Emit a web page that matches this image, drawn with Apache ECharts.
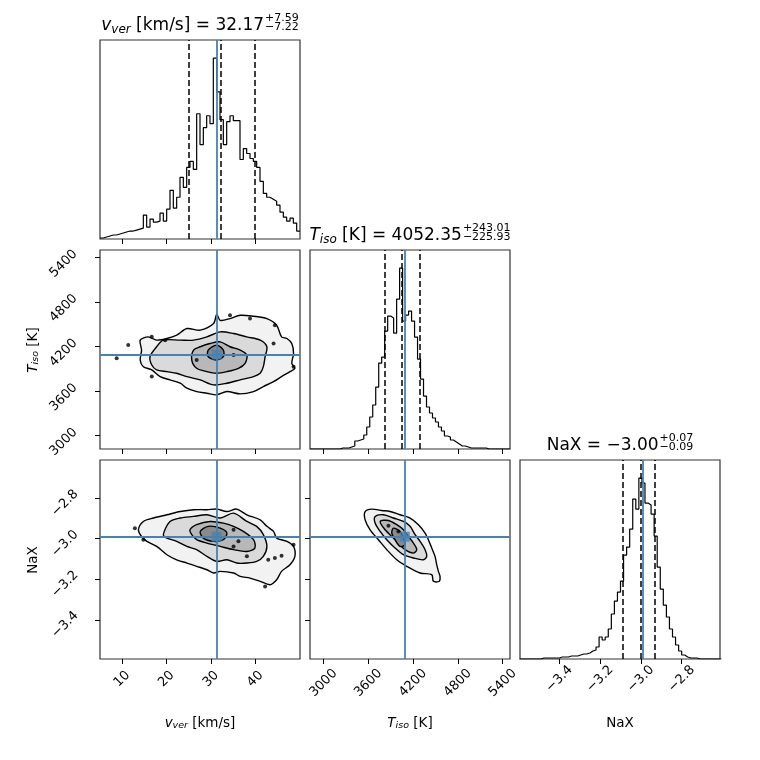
<!DOCTYPE html>
<html>
<head>
<meta charset="utf-8">
<script src="https://cdn.jsdelivr.net/npm/echarts@6/dist/echarts.min.js"></script>
<style>
    html, body { margin: 0; padding: 0; background: #fff; }
    #container { width: 760px; height: 760px; }
</style>
</head>
<body>
<div id="container"></div>
<script>
// ---- data ----
// 1D histograms: bin counts, first bin edge and bin width
var vverLo = 5.05, vverBinW = 0.75;
var vverCounts = [1, 2, 3, 4, 4, 5, 6, 7, 8, 8, 9, 10, 11, 24, 12, 20, 17, 18, 26, 18, 30, 49, 31, 42, 62, 52, 72, 78, 70, 126,
    95, 112, 124, 116, 182, 148, 120, 95, 118, 124, 119, 119, 80, 91, 86, 81, 78, 72, 58, 46, 42, 40, 38, 34, 27, 22, 18, 21, 16, 8];

var tisoLo = 2820, tisoBinW = 40;
var tisoCounts = [0, 0, 0, 0, 0, 0, 0, 0, 0, 0,
    1, 1, 1, 2, 3, 8, 9, 10, 14, 22,
    32, 44, 62, 86, 92, 118, 133, 131, 116, 150,
    181, 128, 134, 138, 128, 112, 90, 70, 53, 42,
    36, 31, 27, 22, 18, 13, 12, 9, 7, 5,
    3, 3, 2, 1, 1, 1, 1, 1, 1, 0,
    0, 0, 0, 0, 0, 0, 0];

var naxLo = -3.595, naxBinW = 0.015;
var naxCounts = [0, 0, 0, 0, 0, 0, 0, 1, 1, 1,
    1, 1, 1, 2, 2, 2, 3, 3, 3, 4,
    5, 5, 6, 8, 9, 12, 22, 19, 22, 30,
    45, 58, 67, 78, 104, 112, 130, 160, 150, 181,
    176, 156, 154, 145, 123, 92, 70, 54, 42, 30,
    22, 14, 8, 4, 2, 1, 1, 1, 0, 0,
    0, 0, 0, 0, 0, 0];

// quantiles (16/50/84) and truth values
var vverQuant = [24.95, 32.17, 39.76];
var tisoQuant = [3826.42, 4052.35, 4295.36];
var naxQuant = [-3.09, -3.00, -2.93];
var truths = { vver: 31.3, tiso: 4090, nax: -2.99 };

// axis ranges and tick values
var vverRange = [5.05, 50.05], vverTicks = [10, 20, 30, 40];
var tisoRange = [2820, 5498], tisoTicks = [3000, 3600, 4200, 4800, 5400];
var naxRange = [-3.593, -2.612], naxTicks = [-3.4, -3.2, -3.0, -2.8];

// 2D contour levels (outer to inner), [x, y] in data units
var vtLevels = [
    [[14.1, 4285], [15.9, 4329], [17.8, 4285], [20.1, 4307], [22.3, 4352], [24.6, 4441], [27.6, 4419], [30.6, 4508], [31.3, 4633], [32.1, 4552],
        [34.3, 4575], [36.6, 4619], [39.6, 4606], [42.6, 4575], [44.8, 4485], [45.9, 4329], [47.1, 4307], [48.2, 4240], [48.6, 4106], [48.2, 3973],
        [48.9, 3906], [47.8, 3861], [45.9, 3794], [44.1, 3727], [41.8, 3660], [39.6, 3593], [36.6, 3562], [33.6, 3593], [31.3, 3549], [29.1, 3571],
        [26.8, 3593], [24.6, 3638], [23.1, 3705], [20.8, 3750], [18.6, 3794], [16.7, 3884], [14.8, 3928], [14.1, 4017], [14.4, 4151]],
    [[19.3, 4285], [23.1, 4285], [26.1, 4285], [29.1, 4329], [32.1, 4396], [35.1, 4374], [38.1, 4329], [41.1, 4285], [42.6, 4196], [42.2, 4062],
        [41.8, 3928], [41.1, 3839], [39.6, 3794], [36.6, 3750], [33.6, 3705], [30.6, 3683], [27.6, 3750], [24.6, 3794], [22.3, 3839], [20.1, 3861],
        [17.8, 3884], [16.7, 3950], [16.3, 4062], [17.8, 4196]],
    [[26.1, 4151], [27.6, 4196], [29.8, 4240], [32.1, 4262], [34.3, 4196], [36.6, 4151], [38.1, 4084], [37.7, 3973], [36.2, 3906], [33.6, 3861],
        [31.3, 3839], [29.1, 3861], [26.8, 3906], [25.7, 4017]],
    [[29.4, 4151], [31.3, 4218], [32.8, 4151], [32.8, 4062], [31.3, 4017], [29.4, 4062]]
];
var vtDots = [[8.8, 4040], [11.4, 4218], [16.7, 4329], [16.7, 3794], [19.7, 4285], [34.3, 4619], [38.8, 4575], [44.4, 4485],
    [44.1, 4240], [48.6, 3928], [26.8, 4017], [35.1, 4084]];

var vnLevels = [
    [[13.7, -2.956], [14.8, -2.915], [17.1, -2.898], [20.1, -2.882], [23.1, -2.866], [26.1, -2.857], [29.1, -2.857], [31.3, -2.854], [33.6, -2.866],
        [35.8, -2.854], [38.1, -2.882], [41.1, -2.907], [42.6, -2.939], [44.1, -2.964], [44.8, -2.997], [47.1, -3.013], [48.6, -3.038], [48.9, -3.087],
        [47.8, -3.128], [45.9, -3.161], [44.8, -3.202], [43.3, -3.227], [41.1, -3.210], [38.8, -3.194], [36.6, -3.186], [35.1, -3.169], [32.1, -3.161],
        [30.6, -3.169], [29.1, -3.153], [26.8, -3.136], [24.6, -3.120], [22.3, -3.104], [20.1, -3.079], [17.8, -3.038], [15.6, -3.013], [14.4, -2.989]],
    [[19.3, -2.980], [20.8, -2.915], [23.1, -2.898], [26.1, -2.890], [29.1, -2.882], [32.1, -2.898], [35.1, -2.874], [38.1, -2.915], [40.3, -2.939],
        [41.8, -2.980], [42.6, -3.038], [41.8, -3.087], [40.3, -3.112], [38.1, -3.120], [35.8, -3.120], [33.6, -3.104], [31.3, -3.112], [29.1, -3.087],
        [26.8, -3.054], [24.6, -3.038], [22.3, -3.013], [20.1, -2.997]],
    [[25.3, -2.956], [26.8, -2.931], [29.8, -2.915], [32.8, -2.923], [35.1, -2.939], [37.3, -2.964], [39.6, -3.005], [39.9, -3.046], [38.1, -3.063],
        [35.1, -3.054], [32.1, -3.038], [29.1, -3.022], [26.8, -3.005], [25.7, -2.980]],
    [[27.6, -2.964], [29.4, -2.939], [32.1, -2.948], [33.6, -2.972], [32.8, -3.005], [30.6, -3.013], [28.3, -2.997]]
];
var vnDots = [[12.9, -2.948], [14.8, -3.005], [35.1, -2.956], [35.1, -3.038], [36.2, -3.013], [38.1, -3.087], [42.9, -3.104],
    [44.4, -3.095], [45.9, -3.084], [48.6, -3.030], [42.2, -3.235]];

var tnLevels = [
    [[3558, -2.866], [3647, -2.854], [3781, -2.861], [3892, -2.866], [4026, -2.882], [4160, -2.898], [4272, -2.931], [4361, -2.972], [4405, -3.005],
        [4450, -3.046], [4494, -3.087], [4517, -3.128], [4539, -3.161], [4561, -3.186], [4552, -3.210], [4472, -3.210], [4450, -3.177], [4294, -3.169],
        [4115, -3.136], [3982, -3.104], [3848, -3.054], [3736, -3.005], [3625, -2.956], [3558, -2.907]],
    [[3692, -2.890], [3803, -2.882], [3937, -2.898], [4071, -2.915], [4160, -2.939], [4227, -2.980], [4294, -3.013], [4361, -3.054], [4383, -3.087],
        [4338, -3.104], [4205, -3.095], [4071, -3.079], [3959, -3.046], [3848, -3.005], [3759, -2.964], [3692, -2.923]],
    [[3759, -2.915], [3870, -2.910], [3982, -2.931], [4071, -2.956], [4138, -2.989], [4205, -3.022], [4249, -3.054], [4205, -3.071], [4093, -3.054],
        [4004, -3.022], [3915, -2.989], [3826, -2.956]],
    [[3937, -2.948], [4026, -2.964], [4071, -2.997], [4093, -3.030], [4026, -3.038], [3959, -3.005], [3915, -2.972]]
];
var tnDots = [[3870, -2.936], [4004, -2.964]];

// ---- styling ----
var FONT = 'DejaVu Sans';
var TRUTH = '#4682b4';
var levelFills = ['#f2f2f2', '#dadada', '#b8b8b8', '#8a8a8a'];

var ctx = document.createElement('canvas').getContext('2d');
function fontStr(size, it) { return (it ? 'italic ' : '') + size + 'px "' + FONT + '"'; }
function tw(t, size, it) { ctx.font = fontStr(size, it); return ctx.measureText(t).width; }

// text made of pieces (for subscripts) plus optional stacked sup/sub
function richLabel(x, y, parts, rot, stack) {
    var total = 0;
    parts.forEach(function (p) { total += tw(p[0], p[1], p[2]); });
    var sw = stack ? Math.max(tw(stack[0], stack[2]), tw(stack[1], stack[2])) + 1 : 0;
    var cx = -(total + sw) / 2, kids = [];
    function put(t, size, it, dx, dy) {
        kids.push({
            type: 'text', x: dx, y: dy, silent: true,
            style: { text: t, font: fontStr(size, it), fill: '#000', align: 'left', verticalAlign: 'middle' }
        });
    }
    parts.forEach(function (p) {
        put(p[0], p[1], p[2], cx, p[3] || 0);
        cx += tw(p[0], p[1], p[2]);
    });
    if (stack) {
        put(stack[0], stack[2], false, cx + 1, -8);
        put(stack[1], stack[2], false, cx + 1, 1.5);
    }
    return { type: 'group', x: x, y: y, rotation: rot || 0, children: kids };
}

function fmtInt(v) { return String(v); }
function fmtNax(v) { return (v < 0 ? '\u2212' : '') + Math.abs(v).toFixed(1); }

// lbl: null (no labels) or {margin, pad} ; labels are centred and rotated 45deg like matplotlib
function valAxis(gi, range, ticks, lbl, fmt) {
    return {
        type: 'value', gridIndex: gi, min: range[0], max: range[1],
        axisLine: { show: false, onZero: false },
        splitLine: { show: false },
        axisTick: { show: true, length: 5, customValues: ticks, lineStyle: { color: '#000', width: 1 } },
        axisLabel: {
            show: !!lbl, customValues: ticks, rotate: 45,
            margin: lbl ? lbl.margin : 8, padding: lbl ? [lbl.pad, lbl.pad, 0, 0] : 0,
            align: 'center', verticalAlign: 'middle',
            fontSize: 13, fontFamily: FONT, color: '#000', formatter: fmt
        }
    };
}
function histYAxis(gi, counts) {
    return { type: 'value', gridIndex: gi, min: 0, max: 1.1 * Math.max.apply(null, counts), show: false };
}

function histData(lo, w, counts) {
    var d = counts.map(function (c, i) { return [lo + i * w, c]; });
    d.push([lo + counts.length * w, counts[counts.length - 1]]);
    return d;
}

function histSeries(gi, lo, w, counts, quant, truth) {
    var ml = quant.map(function (q) {
        return { xAxis: q, lineStyle: { color: '#000', width: 1.5, type: [6, 3] } };
    });
    ml.push({ xAxis: truth, lineStyle: { color: TRUTH, width: 1.8, type: 'solid' } });
    return {
        type: 'line', xAxisIndex: gi, yAxisIndex: gi, step: 'end', symbol: 'none', clip: true,
        data: histData(lo, w, counts),
        lineStyle: { color: '#000', width: 1.2 },
        markLine: { silent: true, symbol: ['none', 'none'], label: { show: false }, animation: false, data: ml }
    };
}

function contourSeries(gi, levels) {
    return {
        type: 'custom', xAxisIndex: gi, yAxisIndex: gi, coordinateSystem: 'cartesian2d', clip: true, silent: true, z: 2,
        data: levels.map(function (l) { return l[0]; }),
        renderItem: function (params, api) {
            var pts = levels[params.dataIndex].map(function (p) { return api.coord(p); });
            return {
                type: 'polygon', shape: { points: pts, smooth: 0.3 },
                style: { fill: levelFills[params.dataIndex], stroke: '#000', lineWidth: 1.4 }
            };
        }
    };
}
function dotSeries(gi, dots) {
    return { type: 'scatter', xAxisIndex: gi, yAxisIndex: gi, data: dots, symbolSize: 4, itemStyle: { color: '#000' }, z: 3, silent: true };
}
function truthSeries(gi, tx, ty) {
    return {
        type: 'scatter', xAxisIndex: gi, yAxisIndex: gi, data: [[tx, ty]], symbol: 'rect', symbolSize: 10,
        itemStyle: { color: TRUTH }, z: 5, silent: true,
        markLine: {
            silent: true, symbol: ['none', 'none'], label: { show: false }, animation: false,
            lineStyle: { color: TRUTH, width: 1.8, type: 'solid' },
            data: [{ xAxis: tx }, { yAxis: ty }]
        }
    };
}

var cols = [100, 310, 520], rows = [40, 250, 460];
var cells = [[0, 0], [1, 0], [1, 1], [2, 0], [2, 1], [2, 2]];   // [row, col] per grid index

var dom = document.getElementById('container');
var myChart = echarts.init(dom);

var option = {
    animation: false,
    backgroundColor: '#fff',
    grid: cells.map(function (rc) {
        return {
            left: cols[rc[1]], top: rows[rc[0]], width: 200, height: 199,
            show: true, borderColor: '#333', borderWidth: 1.2, backgroundColor: 'transparent'
        };
    }),
    xAxis: [
        valAxis(0, vverRange, vverTicks, null, fmtInt),
        valAxis(1, vverRange, vverTicks, null, fmtInt),
        valAxis(2, tisoRange, tisoTicks, null, fmtInt),
        valAxis(3, vverRange, vverTicks, { margin: 20, pad: 0 }, fmtInt),
        valAxis(4, tisoRange, tisoTicks, { margin: 24, pad: 0 }, fmtInt),
        valAxis(5, naxRange, naxTicks, { margin: 20, pad: 0 }, fmtNax)
    ],
    yAxis: [
        histYAxis(0, vverCounts),
        valAxis(1, tisoRange, tisoTicks, { margin: 30, pad: 18 }, fmtInt),
        histYAxis(2, tisoCounts),
        valAxis(3, naxRange, naxTicks, { margin: 30, pad: 14 }, fmtNax),
        valAxis(4, naxRange, naxTicks, null, fmtNax),
        histYAxis(5, naxCounts)
    ],
    series: [
        histSeries(0, vverLo, vverBinW, vverCounts, vverQuant, truths.vver),
        histSeries(2, tisoLo, tisoBinW, tisoCounts, tisoQuant, truths.tiso),
        histSeries(5, naxLo, naxBinW, naxCounts, naxQuant, truths.nax),
        contourSeries(1, vtLevels), dotSeries(1, vtDots), truthSeries(1, truths.vver, truths.tiso),
        contourSeries(3, vnLevels), dotSeries(3, vnDots), truthSeries(3, truths.vver, truths.nax),
        contourSeries(4, tnLevels), dotSeries(4, tnDots), truthSeries(4, truths.tiso, truths.nax)
    ],
    graphic: [
        // titles
        richLabel(200, 26, [['v', 17, true], ['ver', 12, true, 3.5], [' [km/s] = 32.17', 17]], 0, ['+7.59', '\u22127.22', 11]),
        richLabel(410, 236, [['T', 17, true], ['iso', 12, true, 3.5], [' [K] = 4052.35', 17]], 0, ['+243.01', '\u2212225.93', 11]),
        richLabel(620, 446, [['NaX = \u22123.00', 17]], 0, ['+0.07', '\u22120.09', 11]),
        // x axis names
        richLabel(200, 723, [['v', 13.5, true], ['ver', 9.5, true, 2.6], [' [km/s]', 13.5]]),
        richLabel(410, 723, [['T', 13.5, true], ['iso', 9.5, true, 2.6], [' [K]', 13.5]]),
        richLabel(620, 723, [['NaX', 13.5]]),
        // y axis names
        richLabel(33, 350, [['T', 13.5, true], ['iso', 9.5, true, 2.6], [' [K]', 13.5]], Math.PI / 2),
        richLabel(33, 560, [['NaX', 13.5]], Math.PI / 2)
    ]
};

if (option && typeof option === "object") {
    myChart.setOption(option, true);
}
</script>
</body>
</html>
